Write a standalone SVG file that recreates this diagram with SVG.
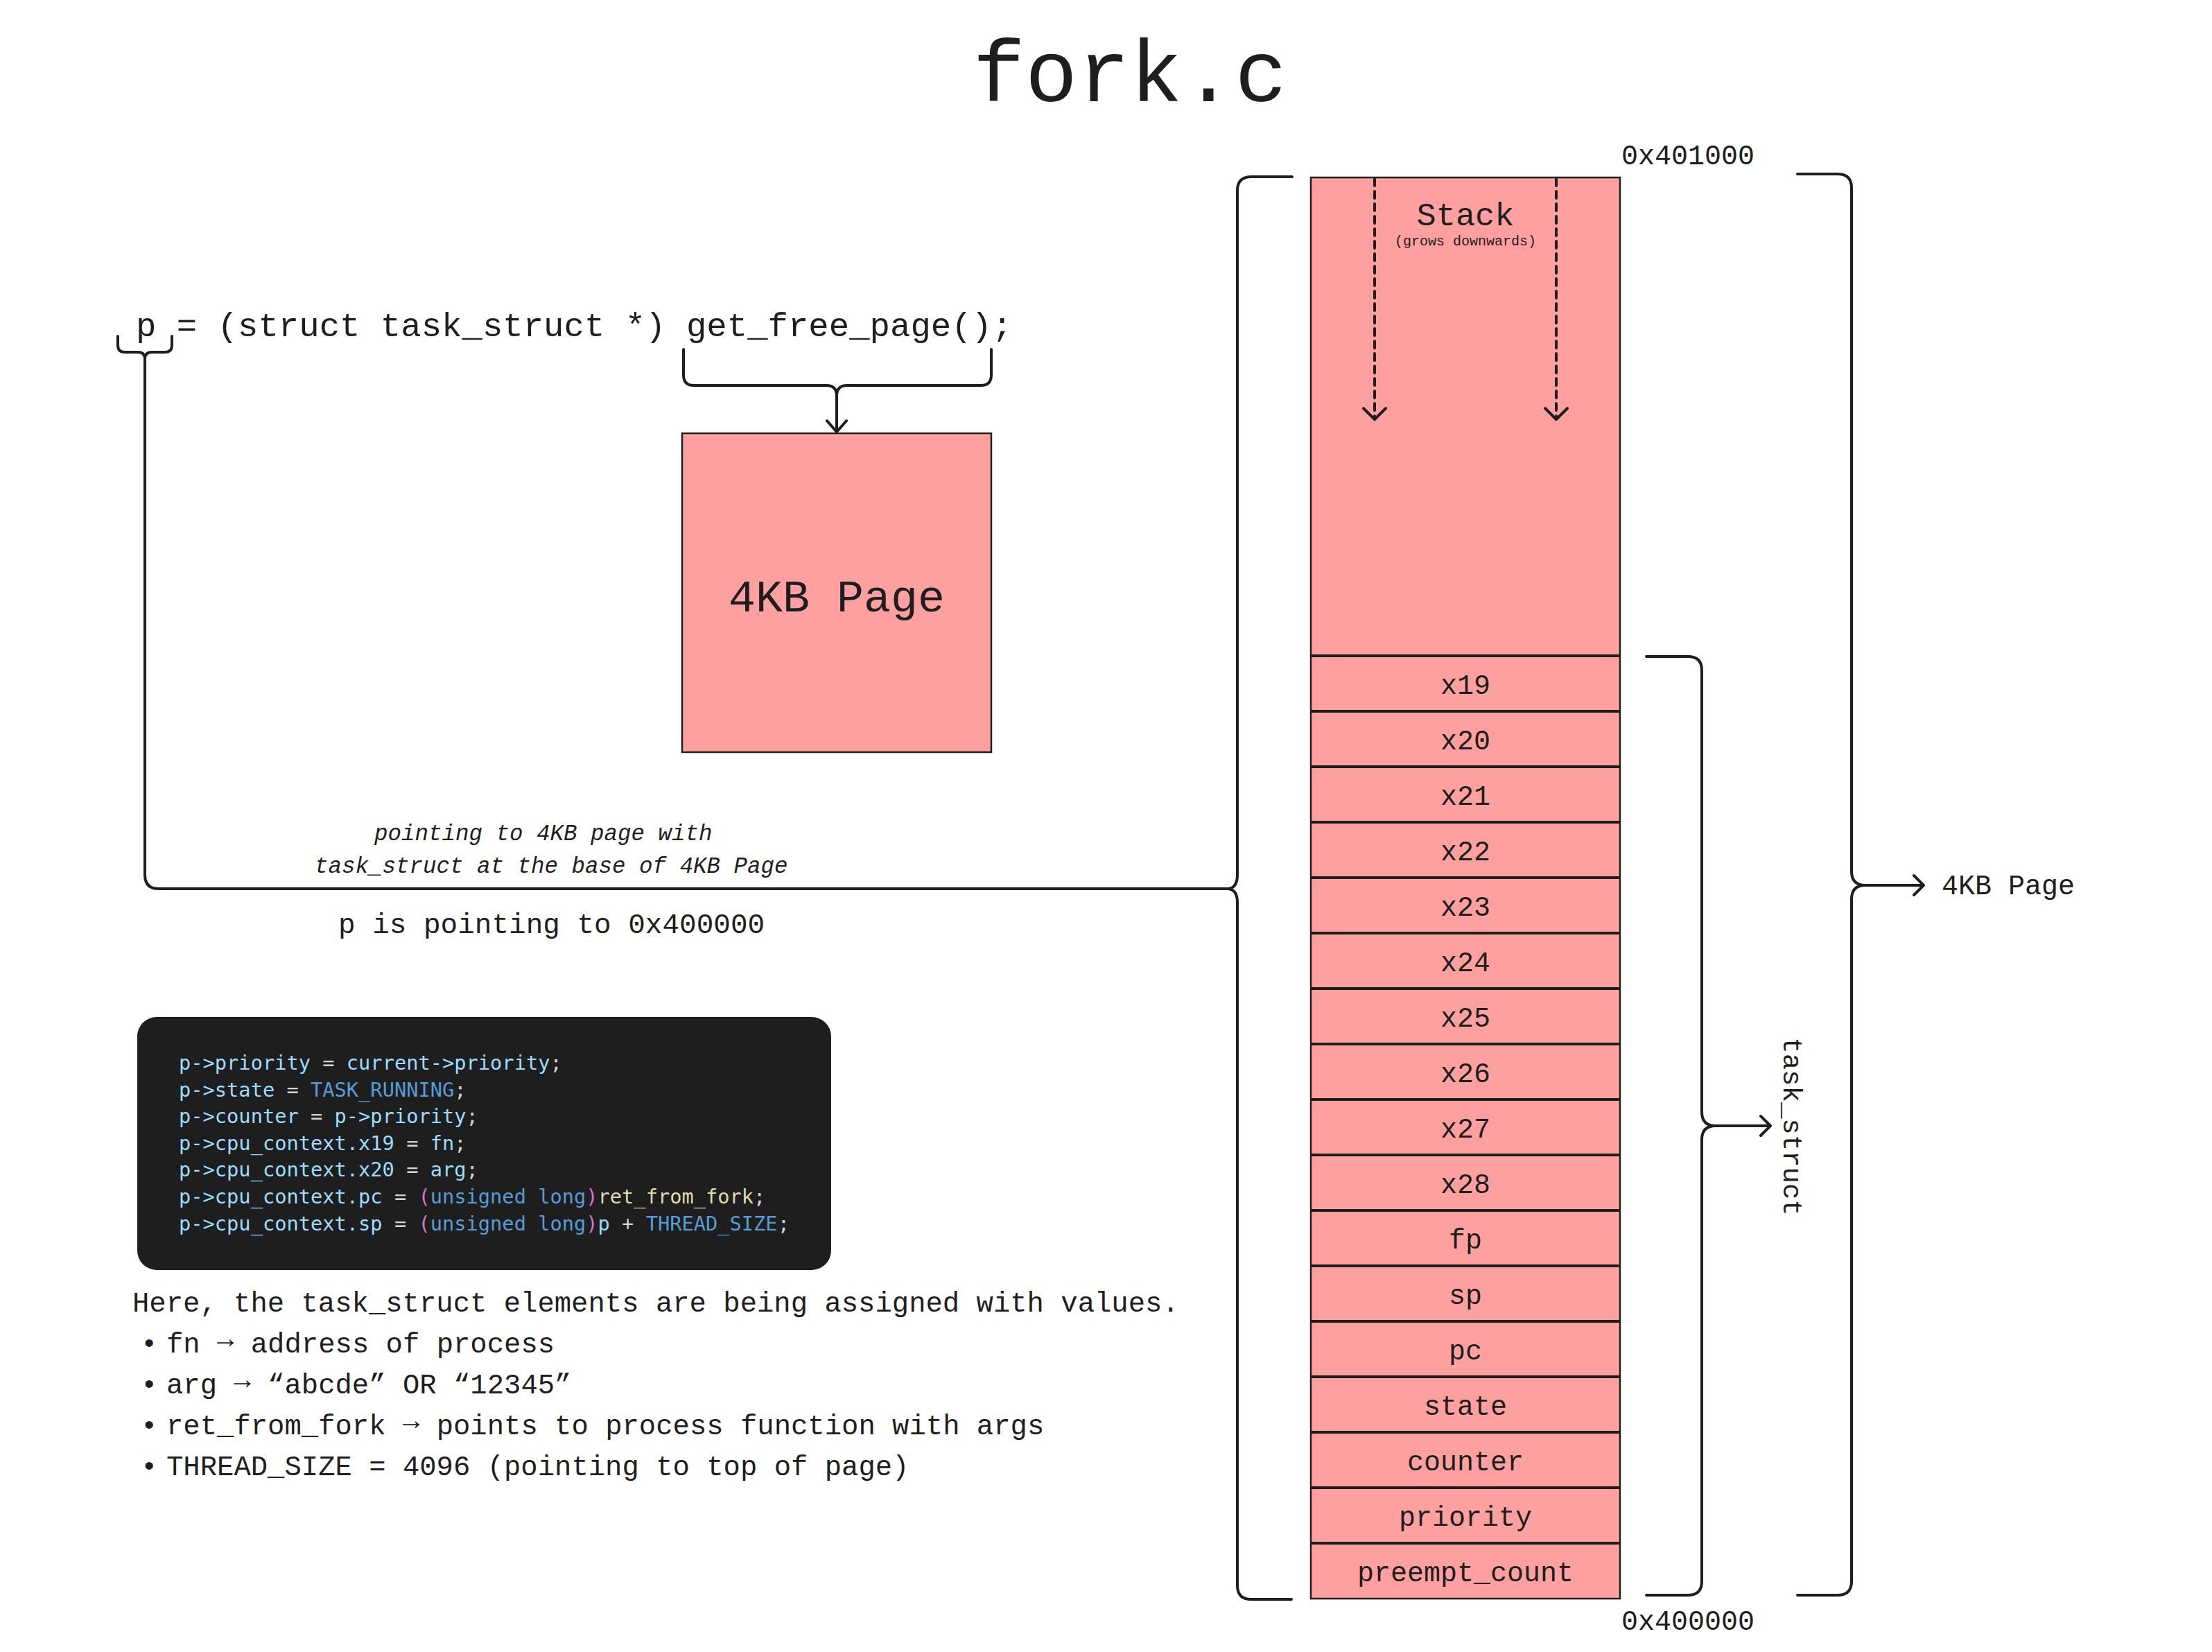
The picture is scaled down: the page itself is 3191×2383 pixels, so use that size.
<svg xmlns="http://www.w3.org/2000/svg" width="3191" height="2383" viewBox="0 0 3191 2383">
<style>
.t{font-family:"Liberation Mono","DejaVu Sans Mono",monospace;fill:#1e1e1e}
.c{font-family:"DejaVu Sans Mono","Liberation Mono",monospace;font-size:28.7px}
.v{fill:#9cdcfe}.k{fill:#569cd6}.w{fill:#d4d4d4}.b{fill:#da70d6}.f{fill:#dcdcaa}
.ln{fill:none;stroke:#1e1e1e;stroke-width:4;stroke-linecap:round;stroke-linejoin:round}
.cell{fill:#ffa0a0;stroke:#1e1e1e;stroke-width:2.5}
.sep{stroke:#1e1e1e;stroke-width:4}
</style>
<rect width="3191" height="2383" fill="#ffffff"/>
<g id="title"><text class="t" x="1630" y="146" font-size="126" text-anchor="middle">fork.c</text></g>
<g id="code-line"><text class="t" x="196" y="485" font-size="49">p = (struct task_struct *) get_free_page();</text></g>
<g id="page-box">
<rect class="cell" x="984" y="625" width="446" height="460"/>
<text class="t" x="1207" y="882" font-size="65" text-anchor="middle">4KB Page</text>
</g>
<g id="memory-column">
<rect class="cell" x="1891" y="256" width="446" height="2050"/>
<text class="t" x="2114" y="325" font-size="47" text-anchor="middle">Stack</text>
<text class="t" x="2114" y="354" font-size="20" text-anchor="middle">(grows downwards)</text>
<g class="sep">
<line x1="1891" y1="946" x2="2337" y2="946"/><line x1="1891" y1="1026" x2="2337" y2="1026"/>
<line x1="1891" y1="1106" x2="2337" y2="1106"/><line x1="1891" y1="1186" x2="2337" y2="1186"/>
<line x1="1891" y1="1266" x2="2337" y2="1266"/><line x1="1891" y1="1346" x2="2337" y2="1346"/>
<line x1="1891" y1="1426" x2="2337" y2="1426"/><line x1="1891" y1="1506" x2="2337" y2="1506"/>
<line x1="1891" y1="1586" x2="2337" y2="1586"/><line x1="1891" y1="1666" x2="2337" y2="1666"/>
<line x1="1891" y1="1746" x2="2337" y2="1746"/><line x1="1891" y1="1826" x2="2337" y2="1826"/>
<line x1="1891" y1="1906" x2="2337" y2="1906"/><line x1="1891" y1="1986" x2="2337" y2="1986"/>
<line x1="1891" y1="2066" x2="2337" y2="2066"/><line x1="1891" y1="2146" x2="2337" y2="2146"/>
<line x1="1891" y1="2226" x2="2337" y2="2226"/>
</g>
<g class="t" font-size="40" text-anchor="middle">
<text x="2114" y="1001">x19</text><text x="2114" y="1081">x20</text><text x="2114" y="1161">x21</text>
<text x="2114" y="1241">x22</text><text x="2114" y="1321">x23</text><text x="2114" y="1401">x24</text>
<text x="2114" y="1481">x25</text><text x="2114" y="1561">x26</text><text x="2114" y="1641">x27</text>
<text x="2114" y="1721">x28</text><text x="2114" y="1801">fp</text><text x="2114" y="1881">sp</text>
<text x="2114" y="1961">pc</text><text x="2114" y="2041">state</text><text x="2114" y="2121">counter</text>
<text x="2114" y="2201">priority</text><text x="2114" y="2281">preempt_count</text>
</g>
</g>
<g id="labels" class="t">
<text x="2339" y="237" font-size="40">0x401000</text>
<text x="2339" y="2351" font-size="40">0x400000</text>
<text x="2801" y="1290" font-size="40">4KB Page</text>
<text transform="translate(2573,1625) rotate(90)" font-size="39" text-anchor="middle">task_struct</text>
<text x="540" y="1212" font-size="32.5" font-style="italic">pointing to 4KB page with</text>
<text x="454" y="1259" font-size="32.5" font-style="italic">task_struct at the base of 4KB Page</text>
<text x="488" y="1346" font-size="41">p is pointing to 0x400000</text>
</g>
<g id="code-block">
<rect x="198" y="1467" width="1001" height="365" rx="28" fill="#1e1e1e"/>
<text class="c" x="258" y="1543"><tspan class="v">p-&gt;priority</tspan><tspan class="w"> = </tspan><tspan class="v">current-&gt;priority</tspan><tspan class="w">;</tspan></text>
<text class="c" x="258" y="1581.6"><tspan class="v">p-&gt;state</tspan><tspan class="w"> = </tspan><tspan class="k">TASK_RUNNING</tspan><tspan class="w">;</tspan></text>
<text class="c" x="258" y="1620.2"><tspan class="v">p-&gt;counter</tspan><tspan class="w"> = </tspan><tspan class="v">p-&gt;priority</tspan><tspan class="w">;</tspan></text>
<text class="c" x="258" y="1658.8"><tspan class="v">p-&gt;cpu_context.x19</tspan><tspan class="w"> = </tspan><tspan class="v">fn</tspan><tspan class="w">;</tspan></text>
<text class="c" x="258" y="1697.4"><tspan class="v">p-&gt;cpu_context.x20</tspan><tspan class="w"> = </tspan><tspan class="v">arg</tspan><tspan class="w">;</tspan></text>
<text class="c" x="258" y="1736"><tspan class="v">p-&gt;cpu_context.pc</tspan><tspan class="w"> = </tspan><tspan class="b">(</tspan><tspan class="k">unsigned long</tspan><tspan class="b">)</tspan><tspan class="f">ret_from_fork</tspan><tspan class="w">;</tspan></text>
<text class="c" x="258" y="1774.6"><tspan class="v">p-&gt;cpu_context.sp</tspan><tspan class="w"> = </tspan><tspan class="b">(</tspan><tspan class="k">unsigned long</tspan><tspan class="b">)</tspan><tspan class="v">p</tspan><tspan class="w"> + </tspan><tspan class="k">THREAD_SIZE</tspan><tspan class="w">;</tspan></text>
</g>
<g id="notes" class="t" font-size="40.6">
<text x="191" y="1892">Here, the task_struct elements are being assigned with values.</text>
<text x="203" y="1951">•</text><text x="240" y="1951">fn <tspan dy="-7">→</tspan><tspan dy="7"> address of process</tspan></text>
<text x="203" y="2010">•</text><text x="240" y="2010">arg <tspan dy="-7">→</tspan><tspan dy="7"> “abcde” OR “12345”</tspan></text>
<text x="203" y="2069">•</text><text x="240" y="2069">ret_from_fork <tspan dy="-7">→</tspan><tspan dy="7"> points to process function with args</tspan></text>
<text x="203" y="2128">•</text><text x="240" y="2128">THREAD_SIZE = 4096 (pointing to top of page)</text>
</g>
<g id="connectors">
<path class="ln" d="M170,485 V498 Q170,508 180,508 H199 Q209,508 209,518 M248,485 V498 Q248,508 238,508 H219 Q209,508 209,518 V1262 Q209,1282 229,1282 H1770"/>
<path class="ln" d="M986,504 V541 Q986,556 1001,556 H1192 Q1207,556 1207,571 V623 M1430,504 V541 Q1430,556 1415,556 H1222 Q1207,556 1207,571 M1193,607 L1207,623 L1221,607"/>
<path class="ln" d="M1864,255 H1805 Q1785,255 1785,275 V1262 Q1785,1282 1770,1282 Q1785,1282 1785,1302 V2287 Q1785,2307 1805,2307 H1863"/>
<path class="ln" d="M2375,947 H2435 Q2455,947 2455,967 V1604 Q2455,1624 2475,1624 H2554 M2375,2301 H2435 Q2455,2301 2455,2281 V1644 Q2455,1624 2475,1624 M2540,1610 L2554,1624 L2540,1638"/>
<path class="ln" d="M2593,251 H2651 Q2671,251 2671,271 V1257 Q2671,1277 2691,1277 H2775 M2593,2301 H2651 Q2671,2301 2671,2281 V1297 Q2671,1277 2691,1277 M2761,1263 L2775,1277 L2761,1291"/>
<path class="ln" d="M1983,258 V604 M2245,258 V604" stroke-dasharray="10 8" stroke-linecap="butt"/>
<path class="ln" d="M1967,589 L1983,605 L1999,589 M2229,589 L2245,605 L2261,589"/>
</g>
</svg>
